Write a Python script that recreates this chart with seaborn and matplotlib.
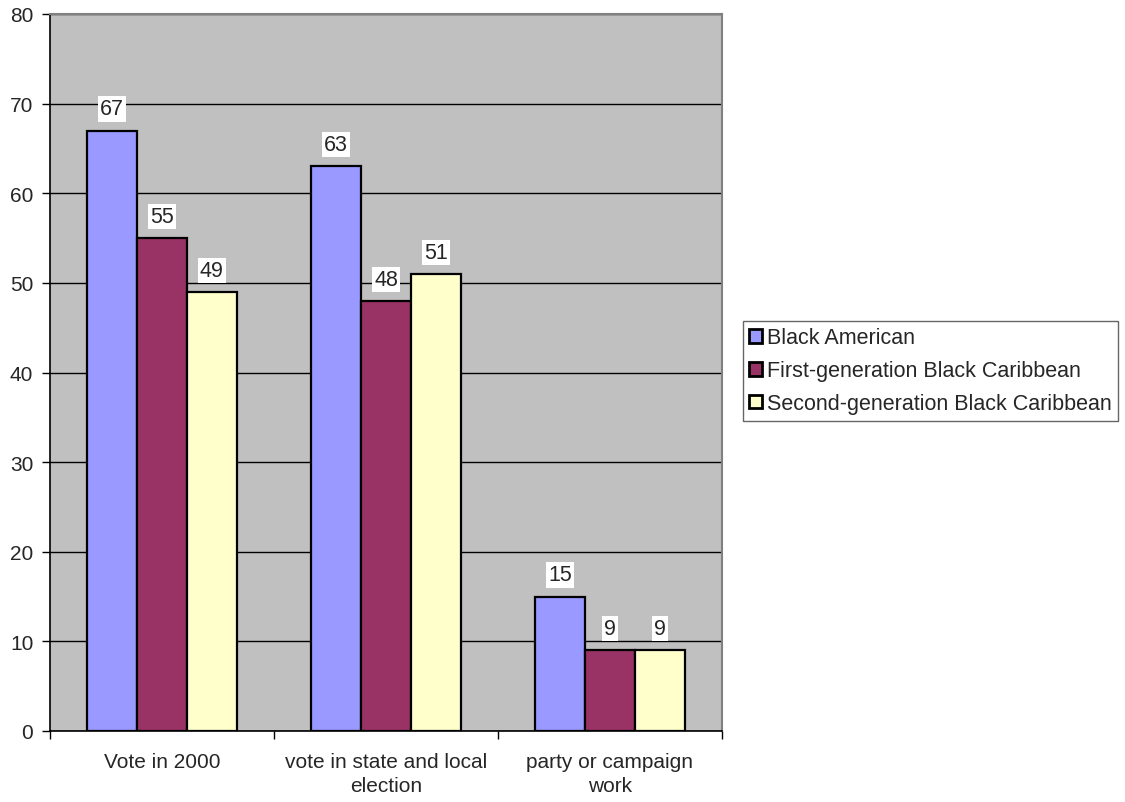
import matplotlib
matplotlib.use("Agg")
import matplotlib.pyplot as plt
import seaborn as sns
import pandas as pd
from matplotlib.ticker import FixedLocator, MultipleLocator

categories = ["Vote in 2000", "vote in state and local\nelection", "party or campaign\nwork"]
groups = ["Black American", "First-generation Black Caribbean", "Second-generation Black Caribbean"]
black_american = [67, 63, 15]
first_gen = [55, 48, 9]
second_gen = [49, 51, 9]
colors = ["#9999FF", "#993366", "#FFFFCC"]

rows = []
for grp, vals in zip(groups, [black_american, first_gen, second_gen]):
    for cat, v in zip(categories, vals):
        rows.append({"category": cat, "group": grp, "value": v})
df = pd.DataFrame(rows)

sns.set_style("white")
plt.rcParams["font.family"] = ["Liberation Sans", "DejaVu Sans"]

fig = plt.figure(figsize=(11.25, 8.03), dpi=100)
ax = fig.add_axes([50 / 1125, 1 - 732 / 803, 672 / 1125, 717 / 803])
ax.set_facecolor("#C0C0C0")

sns.barplot(data=df, x="category", y="value", hue="group", order=categories,
            hue_order=groups, palette=colors, saturation=1, width=0.667,
            edgecolor="black", linewidth=1.6, ax=ax, legend=True, errorbar=None)

for cont in ax.containers:
    ax.bar_label(cont, fmt="%d", padding=8, fontsize=15.5,
                 bbox=dict(facecolor="white", edgecolor="none", pad=1.5))

ax.set_ylim(0, 80)
ax.set_xlim(-0.5, 2.5)
ax.yaxis.set_major_locator(MultipleLocator(10))
ax.grid(axis="y", color="black", linewidth=1)
ax.set_axisbelow(True)
ax.set_xlabel("")
ax.set_ylabel("")

ax.tick_params(axis="y", which="major", direction="out", length=6, width=1,
               color="black", labelsize=15, left=True, pad=6)
ax.tick_params(axis="x", which="major", length=0, labelsize=15, pad=15)
for lbl in ax.get_xticklabels():
    lbl.set_linespacing(1.35)
ax.xaxis.set_minor_locator(FixedLocator([-0.5, 0.5, 1.5, 2.5]))
ax.tick_params(axis="x", which="minor", direction="out", length=6, width=1,
               color="black", bottom=True)

for side in ["left", "bottom"]:
    ax.spines[side].set_color("black")
    ax.spines[side].set_linewidth(1.2)
for side in ["top", "right"]:
    ax.spines[side].set_color("#808080")
    ax.spines[side].set_linewidth(1.5)

handles, labels = ax.get_legend_handles_labels()
ax.legend_.remove()
leg = fig.legend(handles, labels, loc="upper left",
                 bbox_to_anchor=(743 / 1125, 1 - 322 / 803),
                 fontsize=15.5, frameon=True, fancybox=False, edgecolor="#404040",
                 handlelength=0.6, handleheight=0.6, handletextpad=0.2,
                 labelspacing=0.55, borderpad=0.3, borderaxespad=0)
leg.get_frame().set_linewidth(1)
for h in leg.legend_handles:
    h.set_linewidth(2)

fig.savefig("out.png", dpi=100, facecolor="white")
